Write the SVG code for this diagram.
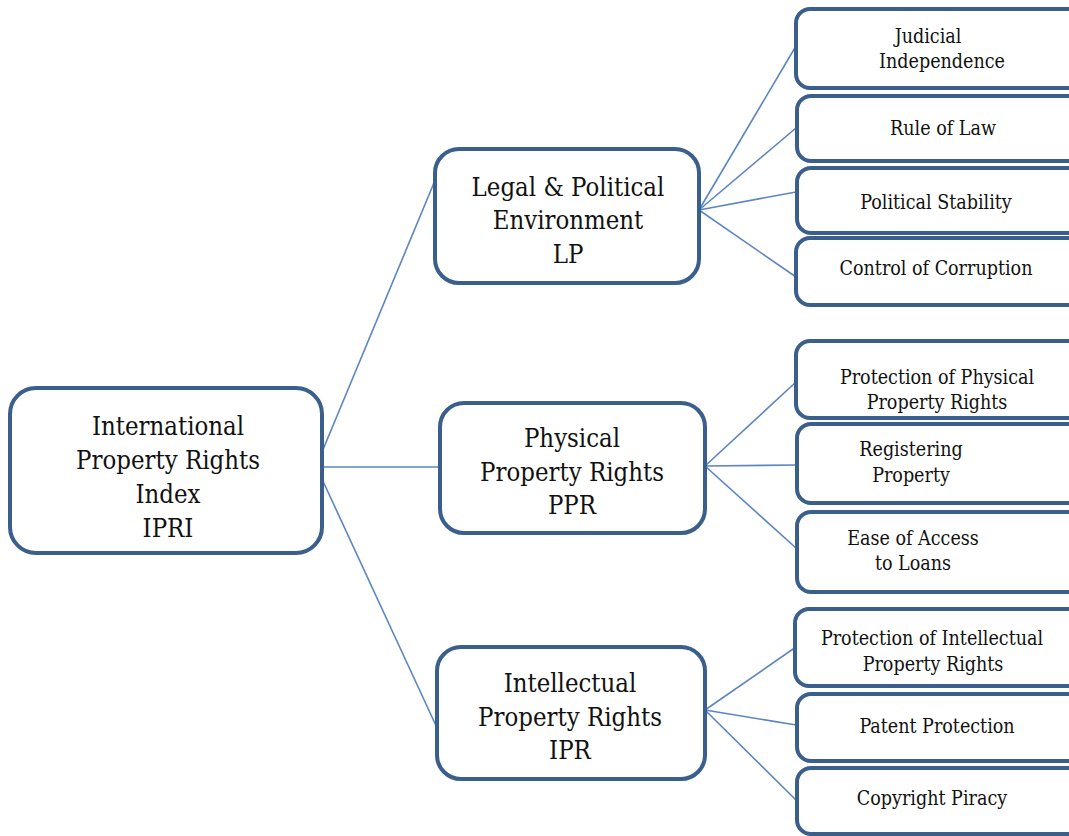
<svg xmlns="http://www.w3.org/2000/svg" width="1069" height="836" viewBox="0 0 1069 836">
<style>
.box{fill:#ffffff;stroke:#3b5f8c;stroke-width:4}
.conn line{stroke:#5b86c2;stroke-width:1.6}
text{font-family:'DejaVu Serif Condensed','DejaVu Serif',serif;font-stretch:condensed;fill:#111;text-anchor:middle}
.big{font-size:25.5px}
.sm{font-size:19.5px}
</style>
<rect width="1069" height="836" fill="#ffffff"/>
<g class="conn" id="connectors">
<line x1="322" y1="452" x2="436" y2="178"/>
<line x1="322" y1="467" x2="441" y2="467"/>
<line x1="322" y1="479" x2="438" y2="730"/>
<line x1="699" y1="210" x2="796" y2="46"/>
<line x1="699" y1="210" x2="796" y2="128"/>
<line x1="699" y1="210" x2="796" y2="192"/>
<line x1="699" y1="210" x2="796" y2="277"/>
<line x1="705" y1="466" x2="796" y2="382"/>
<line x1="705" y1="466" x2="796" y2="465"/>
<line x1="705" y1="466" x2="796" y2="548"/>
<line x1="705" y1="710" x2="796" y2="647"/>
<line x1="705" y1="710" x2="796" y2="725"/>
<line x1="705" y1="710" x2="796" y2="800"/>
</g>
<g id="ipri">
<rect class="box" x="10" y="388" width="312" height="165" rx="26"/>
<text class="big" x="168" y="435">International</text>
<text class="big" x="168" y="469">Property Rights</text>
<text class="big" x="168" y="503">Index</text>
<text class="big" x="168" y="537">IPRI</text>
</g>
<g id="lp">
<rect class="box" x="435" y="149" width="264" height="134" rx="24"/>
<text class="big" x="568" y="196">Legal &amp; Political</text>
<text class="big" x="568" y="229">Environment</text>
<text class="big" x="568" y="263">LP</text>
</g>
<g id="ppr">
<rect class="box" x="440" y="403" width="265" height="130" rx="24"/>
<text class="big" x="572" y="447">Physical</text>
<text class="big" x="572" y="481">Property Rights</text>
<text class="big" x="572" y="514">PPR</text>
</g>
<g id="ipr">
<rect class="box" x="437" y="647" width="268" height="132" rx="24"/>
<text class="big" x="570" y="692">Intellectual</text>
<text class="big" x="570" y="726">Property Rights</text>
<text class="big" x="570" y="759">IPR</text>
</g>
<g id="judicial">
<rect class="box" x="796" y="9" width="290" height="79" rx="14"/>
<text class="sm" x="928" y="43">Judicial</text>
<text class="sm" x="942" y="68">Independence</text>
</g>
<g id="rule">
<rect class="box" x="797" y="96" width="290" height="65" rx="14"/>
<text class="sm" x="943" y="135">Rule of Law</text>
</g>
<g id="political">
<rect class="box" x="797" y="168" width="290" height="65" rx="14"/>
<text class="sm" x="936" y="209">Political Stability</text>
</g>
<g id="corruption">
<rect class="box" x="796" y="238" width="290" height="67" rx="14"/>
<text class="sm" x="936" y="275">Control of Corruption</text>
</g>
<g id="physical">
<rect class="box" x="796" y="341" width="290" height="77" rx="14"/>
<text class="sm" x="937" y="384">Protection of Physical</text>
<text class="sm" x="937" y="409">Property Rights</text>
</g>
<g id="registering">
<rect class="box" x="797" y="424" width="290" height="79" rx="14"/>
<text class="sm" x="911" y="456">Registering</text>
<text class="sm" x="911" y="482">Property</text>
</g>
<g id="loans">
<rect class="box" x="797" y="512" width="290" height="80" rx="14"/>
<text class="sm" x="913" y="545">Ease of Access</text>
<text class="sm" x="913" y="570">to Loans</text>
</g>
<g id="intellectual">
<rect class="box" x="795" y="609" width="290" height="77" rx="14"/>
<text class="sm" x="932" y="645">Protection of Intellectual</text>
<text class="sm" x="933" y="671">Property Rights</text>
</g>
<g id="patent">
<rect class="box" x="797" y="694" width="290" height="67" rx="14"/>
<text class="sm" x="937" y="733">Patent Protection</text>
</g>
<g id="copyright">
<rect class="box" x="797" y="768" width="290" height="66" rx="14"/>
<text class="sm" x="932" y="805">Copyright Piracy</text>
</g>
</svg>
